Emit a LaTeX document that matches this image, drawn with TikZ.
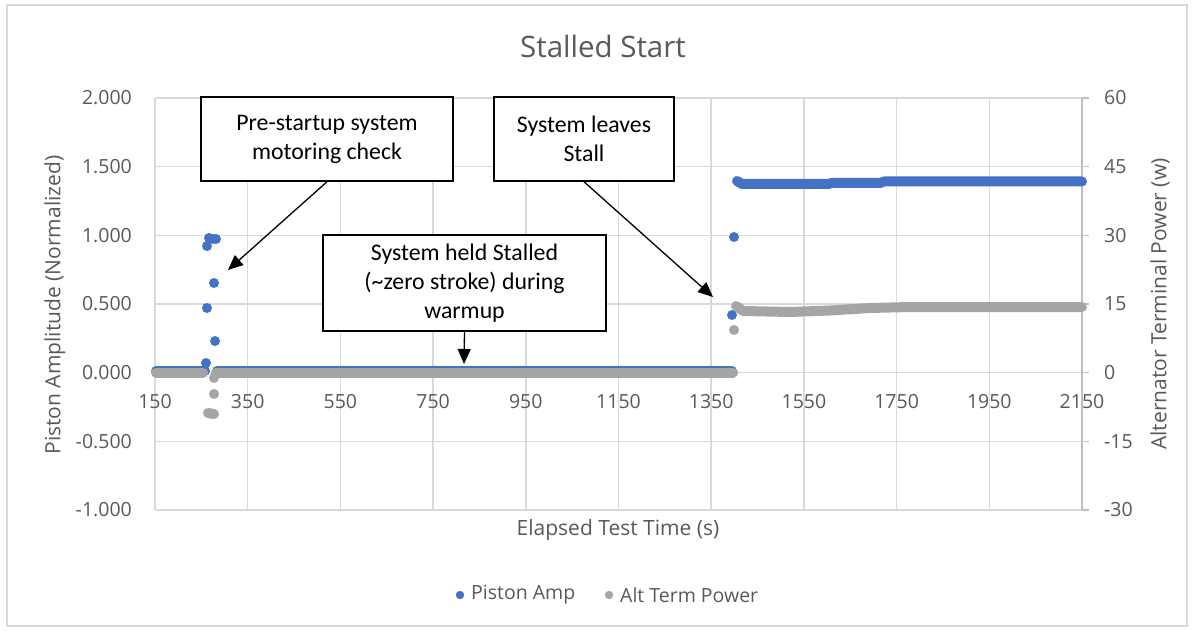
\documentclass[tikz,border=0pt]{standalone}
\usepackage{fontspec}
\setmainfont{Open Sans}
\newfontfamily\calib{Carlito}
\usetikzlibrary{arrows.meta}
\definecolor{gridc}{HTML}{D9D9D9}
\definecolor{axc}{HTML}{BFBFBF}
\definecolor{txtc}{HTML}{595959}
\definecolor{blueS}{HTML}{4472C4}
\definecolor{grayS}{HTML}{A5A5A5}
\tikzset{
  grid line/.style={draw=gridc, line width=1.5pt},
  ticklab/.style={text=txtc, font=\fontsize{19.5}{23}\selectfont, inner sep=0pt},
  axtitle/.style={text=txtc, font=\fontsize{21}{25}\selectfont, inner sep=0pt},
  bser/.style={draw=blueS, line width=10pt, line cap=round, line join=round},
  gser/.style={draw=grayS, line width=10pt, line cap=round, line join=round},
  bdot/.style={fill=blueS},
  gdot/.style={fill=grayS},
  callout/.style={draw=black, line width=1.5pt, fill=white, align=center, inner sep=0pt,
    font=\calib\fontsize{23.8}{29}\selectfont},
  callarrow/.style={draw=black, line width=1.3pt, -{Triangle[length=15pt,width=13pt]}}
}
\begin{document}
\begin{tikzpicture}[x=1pt,y=-1pt]
\useasboundingbox (0,0) rectangle (1194,631);
\fill[white] (0,0) rectangle (1194,631);
\draw[gridc, line width=1.5pt] (7,5) rectangle (1187,626);
% title
\node[text=txtc, font=\fontsize{29.5}{34}\selectfont, inner sep=0pt] (title) at (603,46) {Stalled Start};
% gridlines
\foreach \yy in {98,166.67,235.33,304,372.67,441.33,510} \draw[grid line] (155,\yy) -- (1082,\yy);
\foreach \xx in {155,247.7,340.4,433.1,525.8,618.5,711.2,803.9,896.6,989.3} \draw[grid line] (\xx,98) -- (\xx,510);
% right axis
\draw[axc, line width=1.5pt] (1082,98) -- (1082,510);
\foreach \yy in {98,166.67,235.33,304,372.67,441.33,510} \draw[axc, line width=1.5pt] (1082,\yy) -- (1089,\yy);
% left tick labels
\foreach \yy/\lab [count=\i] in {98/2.000,166.67/1.500,235.33/1.000,304/0.500,372.67/0.000,441.33/-0.500,510/-1.000}
  \node[ticklab, anchor=east] (yl\i) at (132,\yy) {\lab};
% right tick labels
\foreach \yy/\lab [count=\i] in {98/60,166.67/45,235.33/30,304/15,372.67/0,441.33/-15,510/-30}
  \node[ticklab, anchor=west] (yr\i) at (1104,\yy) {\lab};
% x tick labels
\foreach \xx/\lab [count=\i] in {155/150,247.7/350,340.4/550,433.1/750,525.8/950,618.5/1150,711.2/1350,803.9/1550,896.6/1750,989.3/1950,1082/2150}
  \node[ticklab] (xl\i) at (\xx,402) {\lab};
% axis titles
\node[axtitle, rotate=90] (ytl) at (55,305) {Piston Amplitude (Normalized)};
\node[axtitle, rotate=90] (ytr) at (1160,304) {Alternator Terminal Power (w)};
\node[axtitle] (xt) at (618,530) {Elapsed Test Time (s)};
% Piston Amp series (blue)
\draw[bser] (156,371) -- (205,371);
\draw[bser] (217,371) -- (732,371);
\foreach \p in {(206,363),(207,308),(215,341),(214,283),(207,246),(209,238),(213,239),(216,239),(732,315),(734,237)}
  \fill[bdot] \p circle (5);
\draw[bser] (737,181) -- (742,184) -- (828,184) -- (832,183) -- (880,183) -- (884,181.5) -- (1082,181.5);
% Alt Term Power series (gray)
\draw[gser] (156,372.5) -- (203,372.5);
\draw[gser] (216,372.5) -- (733,372.5);
\foreach \p in {(214,378),(214,394),(734,330)}
  \fill[gdot] \p circle (5);
\draw[gser] (208,413) -- (214,414);
\draw[gser] (736,306) -- (743,311) -- (790,312) -- (830,310.5) -- (870,308) -- (910,307) -- (1082,307);
% legend
\fill[bdot] (460,595) circle (4.2);
\node[ticklab, anchor=west] (lg1) at (471,595) {Piston Amp};
\fill[gdot] (609,595) circle (4.2);
\node[ticklab, anchor=west] (lg2) at (620,595) {Alt Term Power};
% callouts
\node[callout, minimum width=252pt, minimum height=84pt] (c1) at (327,139) {Pre-startup system\\motoring check};
\node[callout, minimum width=180pt, minimum height=84pt] (c2) at (584,139) {System leaves\\Stall};
\node[callout, minimum width=283pt, minimum height=96pt] (c3) at (464.5,283) {System held Stalled\\(\textasciitilde zero stroke) during\\warmup};
\coordinate (t1) at (228,270);
\coordinate (t2) at (713,297);
\coordinate (t3) at (464,364);
\draw[callarrow] (c1.south) -- (t1);
\draw[callarrow] (c2.south) -- (t2);
\draw[callarrow] (c3.south) -- (t3);
\end{tikzpicture}
\end{document}
